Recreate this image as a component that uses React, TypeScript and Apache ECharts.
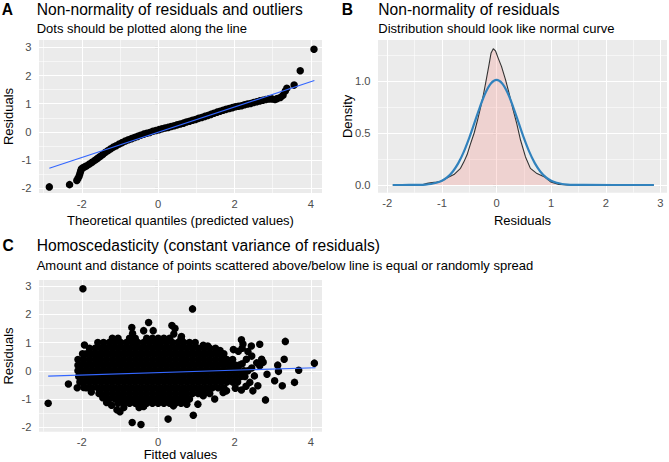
import React, { useEffect, useRef } from "react";
import * as echarts from "echarts";

// ---------- Panel A: Q-Q plot (theoretical quantile, residual) ----------
const qqPoints: [number, number][] = [
  [-2.85, -1.95], [-2.32, -1.87], [-2.13, -1.72], [-2.1, -1.65], [-2.07, -1.57],
  [-2.05, -1.48], [-2.03, -1.4], [-2.01, -1.32], [-1.97, -1.27], [-1.92, -1.24],
  [-1.87, -1.2], [-1.8, -1.14], [-1.73, -1.08], [-1.66, -1.01], [-1.59, -0.94],
  [-1.52, -0.87], [-1.45, -0.8], [-1.38, -0.72], [-1.31, -0.66], [-1.24, -0.6],
  [-1.17, -0.54], [-1.1, -0.49], [-1.02, -0.43], [-0.94, -0.38], [-0.86, -0.32],
  [-0.78, -0.28], [-0.7, -0.24], [-0.62, -0.2], [-0.54, -0.16], [-0.46, -0.12],
  [-0.38, -0.08], [-0.3, -0.05], [-0.22, -0.02], [-0.14, 0.02], [-0.06, 0.05],
  [0.02, 0.08], [0.1, 0.11], [0.18, 0.14], [0.26, 0.16], [0.34, 0.19],
  [0.42, 0.22], [0.5, 0.25], [0.58, 0.28], [0.66, 0.31], [0.74, 0.35],
  [0.82, 0.38], [0.9, 0.41], [0.98, 0.44], [1.06, 0.48], [1.14, 0.51],
  [1.22, 0.55], [1.3, 0.58], [1.38, 0.62], [1.46, 0.66], [1.54, 0.7],
  [1.62, 0.73], [1.7, 0.77], [1.78, 0.8], [1.86, 0.83], [1.94, 0.86],
  [2.02, 0.89], [2.1, 0.91], [2.18, 0.93], [2.26, 0.96], [2.34, 0.99],
  [2.42, 1.01], [2.5, 1.04], [2.58, 1.07], [2.66, 1.1], [2.74, 1.12],
  [2.82, 1.15], [2.9, 1.17], [2.98, 1.17], [3.06, 1.15], [3.12, 1.18],
  [3.2, 1.22], [3.27, 1.3], [3.33, 1.45], [3.37, 1.55], [3.56, 1.66],
  [3.72, 2.17], [4.08, 2.93],
];
const qqLine: [number, number][] = [[-2.85, -1.29], [4.09, 1.82]];

// ---------- Panel B: density of residuals ----------
const densityPts: [number, number][] = [
  [-1.9, 0], [-1.5, 0], [-1.36, 0.002], [-1.27, 0.016], [-1.18, 0.024], [-1.1, 0.028],
  [-1.02, 0.034], [-0.9, 0.07], [-0.78, 0.1], [-0.66, 0.16], [-0.6, 0.22], [-0.54, 0.29],
  [-0.48, 0.39], [-0.41, 0.5], [-0.35, 0.62], [-0.29, 0.75], [-0.24, 0.87], [-0.2, 0.98],
  [-0.14, 1.15], [-0.1, 1.27], [-0.06, 1.31], [-0.02, 1.29], [0.03, 1.22], [0.09, 1.14],
  [0.165, 1.01], [0.23, 0.88], [0.29, 0.75], [0.37, 0.59], [0.44, 0.43], [0.53, 0.27],
  [0.62, 0.16], [0.74, 0.11], [0.87, 0.08], [0.99, 0.03], [1.14, 0.006], [1.3, 0], [2.88, 0],
];
const normalPts: [number, number][] = [
  [-1.9, 0], [-1.6, 0.0003], [-1.4, 0.0018], [-1.3, 0.0044], [-1.2, 0.01], [-1.1, 0.021],
  [-1.0, 0.041], [-0.9, 0.075], [-0.8, 0.13], [-0.7, 0.21], [-0.6, 0.318], [-0.5, 0.453],
  [-0.4, 0.605], [-0.3, 0.757], [-0.2, 0.889], [-0.1, 0.978], [0, 1.01], [0.1, 0.978],
  [0.2, 0.889], [0.3, 0.757], [0.4, 0.605], [0.5, 0.453], [0.6, 0.318], [0.7, 0.21],
  [0.8, 0.13], [0.9, 0.075], [1.0, 0.041], [1.1, 0.021], [1.2, 0.01], [1.3, 0.0044],
  [1.4, 0.0018], [1.6, 0.0003], [2.88, 0],
];

// ---------- Panel C: fitted values vs residuals ----------
const cloudRowY = [1.15, 1.0, 0.8, 0.6, 0.4, 0.2, 0.0, -0.2, -0.4, -0.6, -0.8, -1.0, -1.15];
const cloudRowX: number[][] = [
  [-1.2, -1.05, -0.75, -0.6, -0.3, -0.15, 0, 0.15, 0.3, 0.6],
  [-1.58, -1.43, -1.28, -1.13, -0.98, -0.83, -0.68, -0.53, -0.38, -0.23, -0.08, 0.07, 0.22, 0.37, 0.52, 0.67, 0.82, 0.97],
  [-1.8, -1.65, -1.5, -1.35, -1.2, -1.05, -0.9, -0.75, -0.6, -0.45, -0.3, -0.15, 0, 0.15, 0.3, 0.45, 0.6, 0.75, 0.9, 1.05, 1.2, 1.35, 1.5],
  [-1.98, -1.88, -1.73, -1.58, -1.43, -1.28, -1.13, -0.98, -0.83, -0.68, -0.53, -0.38, -0.23, -0.08, 0.07, 0.22, 0.37, 0.52, 0.67, 0.82, 0.97, 1.12, 1.27, 1.42, 1.57, 1.72],
  [-2.1, -1.95, -1.8, -1.65, -1.5, -1.35, -1.2, -1.05, -0.9, -0.75, -0.6, -0.45, -0.3, -0.15, 0, 0.15, 0.3, 0.45, 0.6, 0.75, 0.9, 1.05, 1.2, 1.35, 1.5, 1.65, 1.8, 1.95],
  [-2.1, -2.03, -1.88, -1.73, -1.58, -1.43, -1.28, -1.13, -0.98, -0.83, -0.68, -0.53, -0.38, -0.23, -0.08, 0.07, 0.22, 0.37, 0.52, 0.67, 0.82, 0.97, 1.12, 1.27, 1.42, 1.57, 1.72, 1.87, 2.02, 2.12],
  [-2.1, -1.95, -1.8, -1.65, -1.5, -1.35, -1.2, -1.05, -0.9, -0.75, -0.6, -0.45, -0.3, -0.15, 0, 0.15, 0.3, 0.45, 0.6, 0.75, 0.9, 1.05, 1.2, 1.35, 1.5, 1.65, 1.8, 1.95, 2.1, 2.25, 2.35],
  [-2.08, -2.03, -1.88, -1.73, -1.58, -1.43, -1.28, -1.13, -0.98, -0.83, -0.68, -0.53, -0.38, -0.23, -0.08, 0.07, 0.22, 0.37, 0.52, 0.67, 0.82, 0.97, 1.12, 1.27, 1.42, 1.57, 1.72, 1.87, 2.02, 2.17, 2.27],
  [-2.05, -1.95, -1.8, -1.65, -1.5, -1.35, -1.2, -1.05, -0.9, -0.75, -0.6, -0.45, -0.3, -0.15, 0, 0.15, 0.3, 0.45, 0.6, 0.75, 0.9, 1.05, 1.2, 1.35, 1.5, 1.65, 1.8, 1.95, 2.08],
  [-1.88, -1.73, -1.58, -1.43, -1.28, -1.13, -0.98, -0.83, -0.68, -0.53, -0.38, -0.23, -0.08, 0.07, 0.22, 0.37, 0.52, 0.67, 0.82, 0.97, 1.12, 1.27, 1.42, 1.57, 1.72],
  [-1.55, -1.5, -1.35, -1.2, -1.05, -0.9, -0.75, -0.6, -0.45, -0.3, -0.15, 0, 0.15, 0.3, 0.45, 0.6, 0.75, 0.9, 1.05, 1.2, 1.35],
  [-1.28, -1.13, -0.98, -0.83, -0.68, -0.53, -0.38, -0.23, -0.08, 0.07, 0.22, 0.37, 0.52, 0.67, 0.82],
  [-1.05, -0.9, -0.75, -0.6, -0.45, -0.3, -0.15, 0, 0.15, 0.3, 0.45, 0.6],
];
const cloudSparse: [number, number][] = [
  [-2.88, -1.15], [-2.35, -0.47], [-2.12, -0.6], [-1.97, 2.9], [-1.93, 0.91], [-1.95, -0.59],
  [-1.75, -0.75], [-1.45, -0.95], [-1.35, -1.12], [-1.22, -1.22], [-1.08, -1.38], [-1.0, -1.45],
  [-0.9, -1.3], [-0.68, -1.83], [-0.45, -1.9], [-0.5, -1.3], [-0.38, -1.26], [0.26, -1.71],
  [0.4, -1.24], [0.75, -1.18], [0.92, -1.57], [1.04, -1.18], [1.18, -0.88], [1.48, -1.0],
  [1.7, -0.77], [1.79, -0.71], [-0.69, 1.53], [-0.67, 1.32], [-0.25, 1.71], [-0.38, 1.42],
  [-0.13, 1.42], [0.36, 1.6], [0.44, 1.5], [0.41, 1.3], [0.61, 1.21], [0.9, 2.19],
  [1.18, 0.9], [1.3, 0.88], [1.62, 0.72], [2.18, 1.1], [2.22, 0.95], [2.2, 0.8],
  [2.1, 0.69], [2.35, 0.68], [1.97, 0.75], [2.44, 0.88], [2.66, 0.94], [2.31, 0.41],
  [2.45, 0.52], [2.71, 0.41], [2.66, 0.18], [2.58, 0.28], [2.75, 0.3], [2.45, 0.1],
  [2.2, 0.25], [2.52, -0.18], [2.4, -0.41], [2.3, -0.55], [2.02, -0.62], [2.18, -0.68],
  [2.48, -0.71], [2.61, -0.53], [2.81, -1.03], [2.85, -0.12], [3.05, -0.35], [3.25, -0.53],
  [3.57, -0.41], [3.68, 0.02], [4.09, 0.27], [3.33, 1.04], [3.3, 0.41], [3.13, 0.2],
  [3.15, -0.02],
];
const fitLine: [number, number][] = [[-2.88, -0.19], [4.12, 0.11]];

// ---------- ticks & grid lines ----------
const aXTicks = [-2, 0, 2, 4];
const aXMinor = [-3, -1, 1, 3];
const aYTicks = [-2, -1, 0, 1, 2, 3];
const aYMinor = [-1.5, -0.5, 0.5, 1.5, 2.5];
const bXTicks = [-2, -1, 0, 1, 2, 3];
const bXMinor = [-1.5, -0.5, 0.5, 1.5, 2.5];
const bYTicks = [0, 0.5, 1.0];
const bYMinor = [0.25, 0.75, 1.25];

const FONT = "'Liberation Sans', Arial, Helvetica, sans-serif";
const TICK_FS = 11.2;

function xAx(gi: number, min: number, max: number, ticks: number[], fmt = (v: number) => String(v)) {
  return {
    type: "value", gridIndex: gi, min, max,
    axisLine: { show: false },
    axisTick: { show: true, length: 3.7, customValues: ticks, lineStyle: { color: "#333333", width: 1.07 } },
    axisLabel: { show: true, customValues: ticks, margin: 5, color: "#4D4D4D", fontSize: TICK_FS, fontFamily: FONT, formatter: (v: number) => fmt(v) },
    splitLine: { show: false },
  };
}
function yAx(gi: number, min: number, max: number, ticks: number[], fmt = (v: number) => String(v)) {
  return {
    type: "value", gridIndex: gi, min, max,
    axisLine: { show: false },
    axisTick: { show: true, length: 3.7, customValues: ticks, lineStyle: { color: "#333333", width: 1.07 } },
    axisLabel: { show: true, customValues: ticks, margin: 7.5, color: "#4D4D4D", fontSize: TICK_FS, fontFamily: FONT, formatter: (v: number) => fmt(v) },
    splitLine: { show: false },
  };
}
function gridLines(i: number, xMaj: number[], xMin: number[], yMaj: number[], yMin: number[]) {
  const data = [
    ...xMin.map((v) => ({ xAxis: v, lineStyle: { width: 0.55 } })),
    ...yMin.map((v) => ({ yAxis: v, lineStyle: { width: 0.55 } })),
    ...xMaj.map((v) => ({ xAxis: v, lineStyle: { width: 1.1 } })),
    ...yMaj.map((v) => ({ yAxis: v, lineStyle: { width: 1.1 } })),
  ];
  return {
    type: "scatter", xAxisIndex: i, yAxisIndex: i, data: [], silent: true, z: 1,
    markLine: {
      silent: true, z: 1, symbol: ["none", "none"], label: { show: false },
      lineStyle: { color: "#FFFFFF", type: "solid" }, emphasis: { disabled: true }, data,
    },
  };
}
function txt(text: string, x: number, y: number, size: number, opts: any = {}) {
  return {
    type: "text", x, y, rotation: opts.rotation || 0, silent: true,
    style: {
      text, fill: opts.color || "#000000",
      font: `${opts.bold ? "bold " : ""}${size}px ${FONT}`,
      textAlign: opts.align || "left", align: opts.align || "left",
      textVerticalAlign: "middle", verticalAlign: "middle",
    },
  };
}

export default function App() {
  const ref = useRef<HTMLDivElement>(null);
  useEffect(() => {
    if (!ref.current) return;
    const chart = echarts.init(ref.current, undefined, { renderer: "svg" });
    const cloud: [number, number][] = [];
    cloudRowY.forEach((y, i) => cloudRowX[i].forEach((x) => cloud.push([x, y])));
    cloudSparse.forEach((p) => cloud.push(p));
    const panelGrid = { show: true, backgroundColor: "#EBEBEB", borderWidth: 0, containLabel: false, z: 0 };
    chart.setOption({
      animation: false,
      grid: [
        { ...panelGrid, left: 39, top: 40, width: 283, height: 153 },
        { ...panelGrid, left: 378, top: 40, width: 289, height: 152.7 },
        { ...panelGrid, left: 39, top: 280, width: 283, height: 151.7 },
      ],
      xAxis: [xAx(0, -3.12, 4.29, aXTicks), xAx(1, -2.17, 3.12, bXTicks), xAx(2, -3.12, 4.29, aXTicks)],
      yAxis: [
        yAx(0, -2.167, 3.259, aYTicks),
        yAx(1, -0.074, 1.394, bYTicks, (v) => v.toFixed(1)),
        yAx(2, -2.155, 3.212, aYTicks),
      ],
      series: [
        gridLines(0, aXTicks, aXMinor, aYTicks, aYMinor),
        gridLines(1, bXTicks, bXMinor, bYTicks, bYMinor),
        gridLines(2, aXTicks, aXMinor, aYTicks, aYMinor),
        { type: "scatter", xAxisIndex: 0, yAxisIndex: 0, data: qqPoints, symbolSize: 7.5, itemStyle: { color: "#000000", opacity: 1 }, z: 10, silent: true },
        { type: "line", xAxisIndex: 0, yAxisIndex: 0, data: qqLine, symbol: "none", lineStyle: { color: "#3366FF", width: 1.1 }, z: 11, silent: true },
        { type: "line", xAxisIndex: 1, yAxisIndex: 1, data: densityPts, symbol: "none", lineStyle: { color: "#333333", width: 1.1 }, areaStyle: { color: "rgba(248,118,109,0.3)" }, z: 10, silent: true },
        { type: "line", xAxisIndex: 1, yAxisIndex: 1, data: normalPts, symbol: "none", smooth: 0.3, lineStyle: { color: "#3182BD", width: 2.2 }, z: 11, silent: true },
        { type: "scatter", xAxisIndex: 2, yAxisIndex: 2, data: cloud, symbolSize: 7.5, itemStyle: { color: "#000000", opacity: 1 }, z: 10, silent: true },
        { type: "line", xAxisIndex: 2, yAxisIndex: 2, data: fitLine, symbol: "none", lineStyle: { color: "#3366FF", width: 1.1 }, z: 11, silent: true },
      ],
      graphic: {
        elements: [
          txt("A", 1.7, 9, 15.6, { bold: true }),
          txt("B", 341.7, 9, 15.6, { bold: true }),
          txt("C", 2.5, 245.5, 15.6, { bold: true }),
          txt("Non-normality of residuals and outliers", 36.7, 9, 15.6),
          txt("Non-normality of residuals", 378.3, 9, 15.6),
          txt("Homoscedasticity (constant variance of residuals)", 36.7, 245.5, 15.6),
          txt("Dots should be plotted along the line", 36.7, 28.5, 13),
          txt("Distribution should look like normal curve", 378.3, 28.5, 13),
          txt("Amount and distance of points scattered above/below line is equal or randomly spread", 36.7, 265, 13),
          txt("Theoretical quantiles (predicted values)", 180.5, 220, 13, { align: "center" }),
          txt("Residuals", 522.5, 220, 13, { align: "center" }),
          txt("Fitted values", 180.5, 454.5, 13, { align: "center" }),
          txt("Residuals", 8.3, 116.5, 13, { align: "center", rotation: Math.PI / 2 }),
          txt("Density", 347.5, 116.4, 13, { align: "center", rotation: Math.PI / 2 }),
          txt("Residuals", 8.3, 356, 13, { align: "center", rotation: Math.PI / 2 }),
        ],
      },
    });
    return () => chart.dispose();
  }, []);
  return (
    <div
      ref={ref}
      style={{ position: "fixed", left: 0, top: 0, width: 669, height: 462, background: "#FFFFFF" }}
    />
  );
}
